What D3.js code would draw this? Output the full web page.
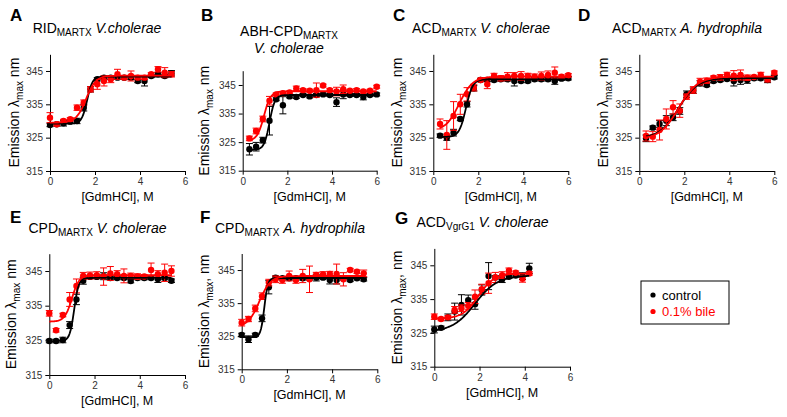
<html>
<head>
<script src="https://d3js.org/d3.v7.min.js"></script>
<style>
  body { margin: 0; background: white; }
  text { font-family: Arial, "Liberation Sans", sans-serif; }
  .tick text { font-size: 10px; fill: #333; }
</style>
</head>
<body>
<svg id="chart" width="787" height="417"></svg>
<script>
// GdmHCl concentrations (M)
var xA = [0,0.3,0.6,0.9,1.2,1.5,1.8,2.1,2.4,2.7,3.0,3.3,3.6,3.9,4.2,4.5,4.8,5.1,5.4];
var xB = [0.3,0.6,0.9,1.2,1.5,1.8,2.1,2.4,2.7,3.0,3.3,3.6,3.9,4.2,4.5,4.8,5.1,5.4,5.7,6.0];
var xG = [0,0.3,0.6,0.9,1.2,1.5,1.8,2.1,2.4,2.7,3.0,3.3,3.6,3.9,4.2];

// A RID MARTX V.cholerae
var ctrlA = [328.8,329,329.3,329.8,330,334,339.5,342.5,343,343,343,343,343,342,342,343.5,344,343.5,344.3];
var ctrlAErr = [0.5,0.5,0.8,0.5,0.8,1,0.8,0.5,0.5,0.5,0.5,0.5,0.5,0.5,1.5,0.5,0.5,0.5,0.8];
var bileA = [331,329,330,330.5,334,335.5,339.5,341,342,342.5,344,343,343.5,343,343,344,345.5,344.5,344];
var bileAErr = [1.5,0.5,0.5,0.5,0.8,0.8,0.8,1.5,1.5,1,1.5,0.5,1.5,0.5,0.5,0.5,0.8,1.5,0.8];

// B ABH-CPD MARTX V. cholerae
var ctrlB = [322.5,323.4,325.7,332.5,340,337.9,341,340.8,341.5,341,341.5,341.7,341.5,339,341.7,341.5,341.5,340.8,341.5,341.7];
var ctrlBErr = [2,1.5,1,5,0.5,3,0.5,0.5,0.5,0.5,0.5,0.5,0.5,1.5,1.5,0.5,0.5,1,0.5,0.5];
var bileB = [326.3,328.9,333.1,339.5,341.7,342.1,342.4,343.8,343.2,343,343.2,344.8,343.2,342.7,343.5,343,343.2,342.7,343,344.4];
var bileBErr = [0.8,1,1,1.5,0.5,0.5,0.5,0.8,0.5,0.5,2.5,0.5,0.5,1.5,1.5,0.5,0.5,0.5,0.5,0.5];

// C ACD MARTX V. cholerae
var ctrlC = [325.6,325,326.5,330.6,335,339.8,342.3,342.3,342.3,342.5,342.5,342,342,342,342.5,342.5,342.5,342,342.7,342.8];
var ctrlCErr = [0.5,0.8,1,0.5,0.8,0.8,0.5,0.5,0.5,0.5,0.5,1.5,0.5,0.5,0.5,0.5,0.5,1,0.5,0.5];
var bileC = [329.1,325.8,331.5,335,338,340,342.3,341,343.5,342.8,343.3,343.5,343.5,343.5,343.3,343.5,343.8,344.5,343.3,343.7];
var bileCErr = [1.5,4.3,4.3,3,2,1,0.5,1.3,0.8,0.8,1.2,1,1.3,0.8,0.8,1.2,1.2,1.7,0.5,0.5];

// D ACD MARTX A. hydrophila
var ctrlD = [324.8,328,329.1,330.1,331.1,333,338,339.1,341.3,340.8,342,342.3,342.6,342,342.3,342.3,342.8,342.8,342.3,343.1];
var ctrlDErr = [1,0.5,1,1.5,1,1,1,0.8,0.8,0.5,0.5,0.5,0.5,1.5,1.3,1,0.5,0.5,0.8,0.5];
var bileD = [325.5,325.3,327.3,330.6,334.1,333.1,337.3,339.3,341.8,342.1,343,343.1,343.8,343.6,343.8,343,343.2,343.8,342.5,344.5];
var bileDErr = [1.5,1.5,3,3,2,2,0.8,1,1,0.8,0.5,0.8,0.8,1.5,1.5,0.8,0.5,0.8,0.8,0.5];

// E CPD MARTX V. cholerae
var ctrlE = [324.8,324.8,325.1,329.4,336.8,342.2,343.3,343.3,343.5,343,343,343,342.1,343,343,343,342.7,343,342.2];
var ctrlEErr = [0.5,0.5,0.8,1,1.5,1,0.5,0.5,1,0.5,0.5,0.5,0.5,0.5,0.5,0.5,1,0.5,0.5];
var bileE = [332.8,327.9,332.3,336.8,340.7,343.6,343.7,343.8,343.4,344.3,344.1,343.6,343.6,343.4,343.4,345.3,344.1,344.5,345];
var bileEErr = [0.8,0.5,0.5,2,2,1,1,1,2.5,2,1,2,0.8,0.8,0.5,2,1,2.5,1.5];

// F CPD MARTX A. hydrophila
var ctrlF = [325.4,324.1,325.4,330.4,339.8,342.7,342.5,342.5,342.5,342.5,342.5,342.7,342.7,342,342,342.5,342,342.5,342.2];
var ctrlFErr = [0.5,1,0.5,1,2,0.5,0.5,0.5,0.5,0.5,0.5,1,0.5,1.2,1.2,0.5,0.5,0.5,0.5];
var bileF = [329.1,330.2,333.4,337.1,341.2,342.2,342,343.2,342,343.2,342.2,343.5,343.7,343.8,343.8,342.2,345,344.5,344];
var bileFErr = [1,0.8,1,1,1,1,1,1.5,1,2,4,0.8,0.8,0.8,3,2,0.5,0.5,1];

// G ACD VgrG1 V. cholerae
var ctrlG = [326,326.5,329.6,331.3,333.3,334.7,333.5,337.7,341.8,341.4,340.9,341.6,342,341.8,344.1];
var ctrlGErr = [1,0.5,1,2.5,3,1.5,1.5,1.5,4,0.5,1,0.5,0.5,1,1.5];
var bileG = [329.8,329.1,329.6,331.8,332.3,333,335.7,337.9,339.7,341.4,342.1,343.4,342.8,341,342.6];
var bileGErr = [0.8,0.5,0.5,1,1,1,2,1.5,3,1.5,1,0.8,0.5,1,0.5];

// Boltzmann fits [bottom, top, midpoint, slope], panels A..G
var fitCtrl = [[329.2,343.3,1.65,0.12],[322.3,341.5,1.2,0.12],[325.2,342.5,1.45,0.15],[324.8,342.9,1.75,0.42],
               [324.8,343,1.1,0.1],[324.7,342.6,1.0,0.08],[325.3,342,1.8,0.5]];
var fitBile = [[329.5,343.6,1.6,0.22],[325.5,342.8,0.95,0.15],[327,343.3,1.15,0.3],[324.5,343.3,1.75,0.42],
               [330.4,343.8,1.0,0.16],[327.8,343.2,0.78,0.25],[329.2,342.6,1.95,0.35]];

var yTicks = [315,325,335,345];
var xTicks = [0,2,4,6];

var panels = [
  {letter:"A", name:"RID", sub:"MARTX", sp:"V.cholerae", x:xA, c:ctrlA, ce:ctrlAErr, b:bileA, be:bileAErr,
   x0:50, x6:185, yb:171, yt:54.3, tx:97, ty:33, lx:10, ly:21, comma:false, off:31},
  {letter:"B", name:"ABH-CPD", sub:"MARTX", sp:"V. cholerae", twoLine:true, x:xB, c:ctrlB, ce:ctrlBErr, b:bileB, be:bileBErr,
   x0:242.7, x6:376.7, yb:170.7, yt:70.7, tx:289, ty:36, lx:201, ly:21, comma:false, off:34},
  {letter:"C", name:"ACD", sub:"MARTX", sp:"V. cholerae", x:xB, c:ctrlC, ce:ctrlCErr, b:bileC, be:bileCErr,
   x0:433.3, x6:568.3, yb:171, yt:54.3, tx:481, ty:33, lx:393, ly:21, comma:false, off:31},
  {letter:"D", name:"ACD", sub:"MARTX", sp:"A. hydrophila", x:xB, c:ctrlD, ce:ctrlDErr, b:bileD, be:bileDErr,
   x0:639.3, x6:774.3, yb:171, yt:54.3, tx:687, ty:33, lx:578, ly:21, comma:false, off:31},
  {letter:"E", name:"CPD", sub:"MARTX", sp:"V. cholerae", x:xA, c:ctrlE, ce:ctrlEErr, b:bileE, be:bileEErr,
   x0:49.3, x6:185, yb:375, yt:253.7, tx:97.5, ty:233, lx:10, ly:223, comma:false, off:33},
  {letter:"F", name:"CPD", sub:"MARTX", sp:"A. hydrophila", x:xA, c:ctrlF, ce:ctrlFErr, b:bileF, be:bileFErr,
   x0:241.7, x6:377.3, yb:369.3, yt:253.5, tx:290, ty:233, lx:200, ly:223, comma:true, off:33},
  {letter:"G", name:"ACD", sub:"VgrG1", sp:"V. cholerae", x:xG, c:ctrlG, ce:ctrlGErr, b:bileG, be:bileGErr,
   x0:434.3, x6:570, yb:366.7, yt:248.4, tx:482.5, ty:227, lx:395, ly:224, comma:true, off:32}
];

var svg = d3.select("#chart");

function boltz(p, v) {
  return p[1] + (p[0] - p[1]) / (1 + Math.exp((v - p[2]) / p[3]));
}

panels.forEach(function(p, k) {
  var x = d3.scaleLinear().domain([0, 6]).range([p.x0, p.x6]);
  var y = d3.scaleLinear().domain([315, 350]).range([p.yb, p.yt]);
  var g = svg.append("g");

  g.append("g").attr("transform", "translate(" + p.x0 + ",0)")
    .call(d3.axisLeft(y).tickValues(yTicks).tickFormat(d3.format("d")).tickSize(4).tickSizeOuter(0).tickPadding(3));
  g.append("g").attr("transform", "translate(0," + p.yb + ")")
    .call(d3.axisBottom(x).tickValues(xTicks).tickFormat(d3.format("d")).tickSize(4).tickSizeOuter(0).tickPadding(3));
  g.selectAll(".domain, .tick line").attr("stroke", "#000");

  // panel letter
  g.append("text").attr("x", p.lx).attr("y", p.ly).attr("font-size", 17).attr("font-weight", "bold").text(p.letter);

  // title
  var t = g.append("text").attr("x", p.tx).attr("y", p.ty).attr("text-anchor", "middle").attr("font-size", 14);
  t.append("tspan").text(p.name);
  t.append("tspan").attr("font-size", 10).attr("dy", 3).text(p.sub);
  if (p.twoLine) {
    g.append("text").attr("x", p.tx).attr("y", p.ty + 17).attr("text-anchor", "middle")
      .attr("font-size", 14).attr("font-style", "italic").text(p.sp);
  } else {
    t.append("tspan").attr("dy", -3).text(" ");
    t.append("tspan").attr("font-style", "italic").text(p.sp);
  }

  // axis labels
  g.append("text").attr("x", (p.x0 + p.x6) / 2).attr("y", p.yb + 30).attr("text-anchor", "middle")
    .attr("font-size", 12.5).text("[GdmHCl], M");
  var yl = g.append("text").attr("text-anchor", "middle").attr("font-size", 14)
    .attr("transform", "translate(" + (p.x0 - p.off) + "," + ((p.yb + p.yt) / 2) + ") rotate(-90)");
  yl.append("tspan").text("Emission λ");
  yl.append("tspan").attr("font-size", 10).attr("dy", 4).text("max");
  yl.append("tspan").attr("dy", -4).text(p.comma ? ", nm" : " nm");

  // points with error bars
  [[p.c, p.ce, "#000"], [p.b, p.be, "#ff0000"]].forEach(function(s) {
    var vals = s[0], errs = s[1], col = s[2];
    var eg = g.append("g").attr("stroke", col).attr("stroke-width", 1);
    vals.forEach(function(v, i) {
      var cx = x(p.x[i]);
      eg.append("line").attr("x1", cx).attr("x2", cx).attr("y1", y(v - errs[i])).attr("y2", y(v + errs[i]));
      eg.append("line").attr("x1", cx - 3.5).attr("x2", cx + 3.5).attr("y1", y(v - errs[i])).attr("y2", y(v - errs[i]));
      eg.append("line").attr("x1", cx - 3.5).attr("x2", cx + 3.5).attr("y1", y(v + errs[i])).attr("y2", y(v + errs[i]));
    });
    g.append("g").selectAll("circle").data(vals).enter().append("circle")
      .attr("cx", function(d, i) { return x(p.x[i]); })
      .attr("cy", function(d) { return y(d); })
      .attr("r", 3.2).attr("fill", col);
  });

  // fitted curves
  var lo = p.x[0], hi = p.x[p.x.length - 1];
  var xs = d3.range(lo, hi + 0.001, (hi - lo) / 120);
  [[fitCtrl[k], "#000"], [fitBile[k], "#ff0000"]].forEach(function(f) {
    var line = d3.line().x(function(d) { return x(d); }).y(function(d) { return y(boltz(f[0], d)); });
    g.append("path").attr("d", line(xs)).attr("fill", "none").attr("stroke", f[1]).attr("stroke-width", 1.8);
  });
});

// legend
var leg = svg.append("g");
leg.append("rect").attr("x", 641).attr("y", 281).attr("width", 88).attr("height", 43)
  .attr("fill", "white").attr("stroke", "#000").attr("stroke-width", 1);
[["control", "#000"], ["0.1% bile", "#ff0000"]].forEach(function(d, i) {
  leg.append("circle").attr("cx", 653).attr("cy", 295 + i * 16.5).attr("r", 2.6).attr("fill", d[1]);
  leg.append("text").attr("x", 662).attr("y", 299.5 + i * 16.5).attr("font-size", 13).attr("fill", d[1]).text(d[0]);
});
</script>
</body>
</html>
